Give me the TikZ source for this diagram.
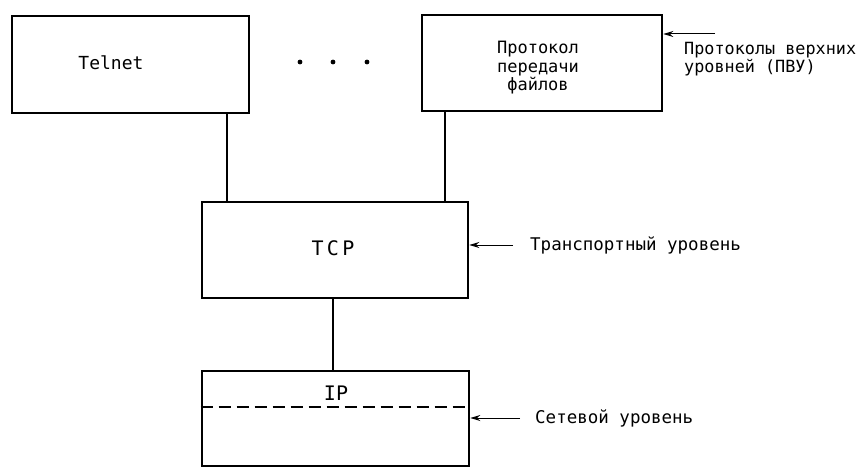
\documentclass[tikz,border=0pt]{standalone}
\usepackage{fontspec}
\setmainfont{DejaVu Sans Mono}
\usetikzlibrary{arrows.meta,positioning}

\begin{document}
\begin{tikzpicture}[
    x=1pt, y=-1pt,
    layer/.style={draw, line width=2.6pt, inner sep=0pt, align=center},
    link/.style={line width=1.6pt},
    arrow/.style={-{Stealth[length=10pt, width=6pt]}, line width=1pt},
    lbl/.style={inner sep=0pt, font=\fontsize{17.5}{18.5}\selectfont, align=left}
]
    \useasboundingbox (0,0) rectangle (860,468);

    \node[layer, minimum width=237pt, minimum height=97pt] (telnet) at (130.5,64.5) {};
    \node[font=\fontsize{18}{20}\selectfont] (telnettxt) at (111,63) {Telnet};
    \node[layer, minimum width=240pt, minimum height=96pt] (ftp) at (542,63) {};
    \node[lbl, align=center, font=\fontsize{17}{18.5}\selectfont] (ftptxt) at (538,68) {Протокол\\передачи\\файлов};
    \node[layer, minimum width=266pt, minimum height=96pt] (tcp) at (335,250) {};
    \node[font=\fontsize{20}{22}\selectfont] (tcptxt) at (333,248) {T\,C\,P};
    \node[layer, minimum width=267pt, minimum height=95pt] (ip) at (335.5,418.5) {};
    \node[font=\fontsize{20}{22}\selectfont] (iptxt) at (336,393) {IP};

    \foreach \px in {300,333,367}
        \fill (\px,62) circle (2.4pt);

    \draw[link] (telnet.south -| 227,0) -- (tcp.north -| 227,0);
    \draw[link] (ftp.south -| 445,0) -- (tcp.north -| 445,0);
    \draw[link] (tcp.south -| 333,0) -- (ip.north -| 333,0);
    \draw[dashed, line width=1.4pt, dash pattern=on 12pt off 6pt] (ip.west |- 0,407) -- (ip.east |- 0,407);

    \coordinate (hlvl) at (715,34);
    \coordinate (tlvl) at (513,245);
    \coordinate (nlvl) at (520,418);

    \draw[arrow] (hlvl) -- (hlvl -| ftp.east);
    \draw[arrow] (tlvl) -- (tlvl -| tcp.east);
    \draw[arrow] (nlvl) -- (nlvl -| ip.east);

    \node[lbl, anchor=north west, font=\fontsize{16.8}{18.5}\selectfont] (hlbl) at (684,42) {Протоколы верхних\\уровней (ПВУ)};
    \node[lbl, right=17pt of tlvl] (tlbl) {Транспортный уровень};
    \node[lbl, right=15pt of nlvl] (nlbl) {Сетевой уровень};
\end{tikzpicture}
\end{document}
